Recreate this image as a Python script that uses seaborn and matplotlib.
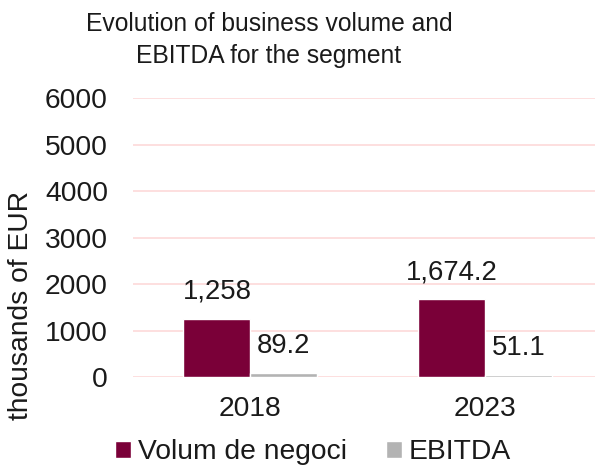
import pandas as pd
import matplotlib
matplotlib.use("Agg")
import matplotlib.pyplot as plt
import seaborn as sns
from matplotlib.patches import Patch

# ----------------------------------------------
# data
years = ["2018", "2023"]
series = ["Volum de negoci", "EBITDA"]
volum = [1258, 1674.2]
ebitda = [89.2, 51.1]
yticks = [0, 1000, 2000, 3000, 4000, 5000, 6000]
# ----------------------------------------------

colors = {"Volum de negoci": "#7A0038", "EBITDA": "#B3B3B3"}

df = pd.DataFrame({
    "Year": years * 2,
    "Series": [series[0]] * len(years) + [series[1]] * len(years),
    "Value": volum + ebitda,
})

sns.set_theme(style="white")
plt.rcParams["font.family"] = ["Liberation Sans", "DejaVu Sans"]
plt.rcParams["text.color"] = "#1a1a1a"

FS = 20.3

fig = plt.figure(figsize=(5.95, 4.68), dpi=100)
ax = fig.add_axes([0.2235, 0.1944, 0.7765, 0.5962])

sns.barplot(data=df, x="Year", y="Value", hue="Series", order=years,
            hue_order=series, palette=colors, width=0.57, saturation=1,
            legend=False, ax=ax)

# value labels above each bar
for cont in ax.containers:
    for bar in cont:
        h = bar.get_height()
        ax.annotate(f"{h:,g}", (bar.get_x() + bar.get_width() / 2, h),
                    xytext=(0, 10), textcoords="offset points",
                    ha="center", va="bottom", fontsize=FS - 0.5, color="#1a1a1a")

ax.set_ylim(0, 6000)
ax.set_xlim(-0.5, 1.468)
ax.set_yticks(yticks)
ax.yaxis.grid(True, color="#FDD9D9", linewidth=1.2)
ax.set_axisbelow(True)
for s in ax.spines.values():
    s.set_visible(False)
ax.tick_params(axis="y", length=0, pad=18, labelsize=FS, labelcolor="#1a1a1a")
ax.tick_params(axis="x", length=0, pad=14, labelsize=FS, labelcolor="#1a1a1a")
ax.set_xlabel("")
ax.set_ylabel("")

fig.text(0.036, 1 - 305 / 468, "thousands of EUR", rotation=90,
         ha="center", va="center", fontsize=FS)
fig.text(269 / 595, 1 - 40 / 468,
         "Evolution of business volume and\nEBITDA for the segment",
         ha="center", va="center", fontsize=17.7, linespacing=1.38)

handles = [Patch(facecolor=colors[s], label=s) for s in series]
fig.legend(handles=handles, loc="center", bbox_to_anchor=(313 / 595, 1 - 452 / 468),
           ncol=2, frameon=False, fontsize=FS, handlelength=0.55,
           handleheight=0.55, handletextpad=0.25, columnspacing=1.4)

fig.savefig("out.png", dpi=100)
